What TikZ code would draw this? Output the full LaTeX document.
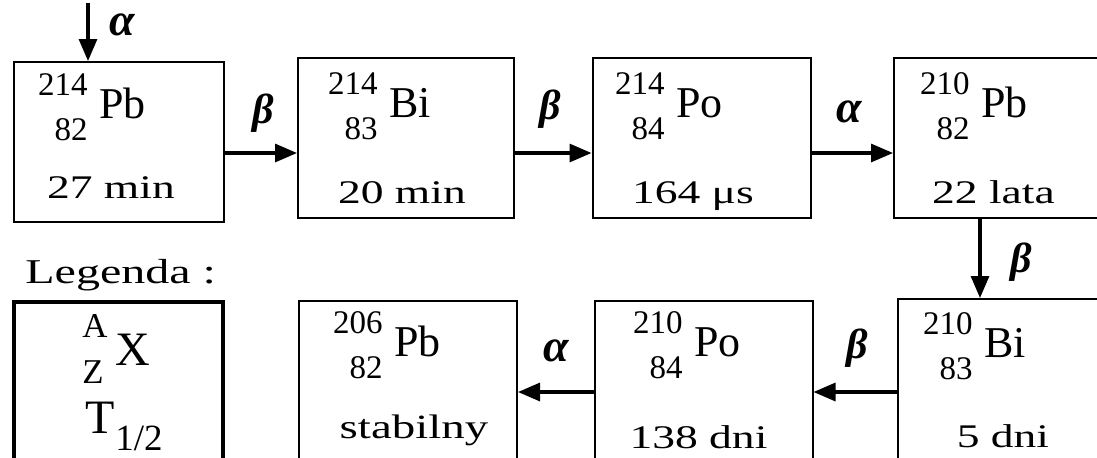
\documentclass[tikz,border=0pt]{standalone}
\usepackage{fontspec}
\setmainfont{Liberation Serif}
\newfontfamily\widefont[FakeStretch=1.38]{Liberation Serif}
\usetikzlibrary{arrows.meta}

\tikzset{
  isobox/.style={draw, line width=1pt, minimum width=109pt, minimum height=80pt, inner sep=0pt},
  num/.style={inner sep=0pt, font=\fontsize{16.5}{18}\selectfont},
  elem/.style={inner sep=0pt, font=\fontsize{22}{24}\selectfont},
  halflife/.style={inner sep=0pt, font=\widefont\fontsize{16.5}{18}\selectfont},
  decay/.style={line width=1.6pt, -{Triangle[length=11pt,width=9pt]}},
  alphalbl/.style={inner sep=0pt, font=\fontsize{23}{24}\selectfont\bfseries\itshape},
  betalbl/.style={inner sep=0pt, font=\fontsize{21}{24}\selectfont\bfseries\itshape}
}

% mass number, atomic number and symbol at (number edge, symbol baseline)
\newcommand{\nuclide}[5]{%
  \node[num, anchor=base east, yshift=11.5pt] (#1-a) at #5 {#2};
  \node[num, anchor=base east, yshift=-11pt] (#1-z) at #5 {#3};
  \node[elem, anchor=base west, xshift=5.5pt] (#1-el) at #5 {#4};
}

\begin{document}
\begin{tikzpicture}[x=0.5pt, y=-0.5pt]
  \clip (0,0) rectangle (1097,457);

  % Top row
  \node[isobox, minimum width=105pt] (pbA) at (119,142) {};
  \node[isobox, minimum width=108pt] (biA) at (406,138) {};
  \node[isobox] (poA) at (701.5,138) {};
  \node[isobox] (pbB) at (1003,138) {};

  % Bottom row
  \node[isobox] (biB) at (1007,379) {};
  \node[isobox] (poB) at (703.5,381) {};
  \node[isobox] (pbC) at (408,381) {};

  % Nuclides
  \nuclide{pbA}{214}{82}{Pb}{(88,118)}
  \nuclide{biA}{214}{83}{Bi}{(378,117)}
  \nuclide{poA}{214}{84}{Po}{(665,117)}
  \nuclide{pbB}{210}{82}{Pb}{(970,117)}
  \nuclide{biB}{210}{83}{Bi}{(973,357)}
  \nuclide{poB}{210}{84}{Po}{(683,356)}
  \nuclide{pbC}{206}{82}{Pb}{(383,356)}

  % Half-lives
  \node[halflife, anchor=base] (pbA-t) at (111,198) {27 min};
  \node[halflife, anchor=base] (biA-t) at (402,203) {20 min};
  \node[halflife, anchor=base] (poA-t) at (693,203) {164 μs};
  \node[halflife, anchor=base] (pbB-t) at (993.5,203) {22 lata};
  \node[halflife, anchor=base] (biB-t) at (1003,447) {5 dni};
  \node[halflife, anchor=base] (poB-t) at (698.5,448) {138 dni};
  \node[halflife, anchor=base, font=\widefont\fontsize{17}{18}\selectfont] (pbC-t) at (414,438) {stabilny};

  % Decays
  \coordinate (src) at (88,3);
  \coordinate (rowA) at (0,153);
  \coordinate (rowB) at (0,392);
  \coordinate (colD) at (980,0);
  \draw[decay] (src) -- (src |- pbA.north);
  \draw[decay] (rowA -| pbA.east) -- (rowA -| biA.west);
  \draw[decay] (rowA -| biA.east) -- (rowA -| poA.west);
  \draw[decay] (rowA -| poA.east) -- (rowA -| pbB.west);
  \draw[decay] (colD |- pbB.south) -- (colD |- biB.north);
  \draw[decay] (rowB -| biB.west) -- (rowB -| poB.east);
  \draw[decay] (rowB -| poB.west) -- (rowB -| pbC.east);

  \node[alphalbl] (a0) at (122,25) {α};
  \node[betalbl] (b1) at (263,113) {β};
  \node[betalbl] (b2) at (550,109) {β};
  \node[alphalbl] (a3) at (849,112) {α};
  \node[betalbl] (b4) at (1021,262) {β};
  \node[betalbl] (b5) at (857,348) {β};
  \node[alphalbl] (a6) at (556,351) {α};

  % Legend
  \node[inner sep=0pt, anchor=base west, font=\widefont\fontsize{17.4}{20}\selectfont] (legtitle) at (25,283) {Legenda :};
  \node[isobox, line width=2pt, minimum width=104.5pt] (legend) at (118.5,382) {};
  \node[inner sep=0pt, anchor=base west, font=\fontsize{17.4}{20}\selectfont] (leg-a) at (82,337) {A};
  \node[inner sep=0pt, anchor=base west, font=\fontsize{17.4}{20}\selectfont] (leg-z) at (82,383) {Z};
  \node[inner sep=0pt, anchor=base west, font=\fontsize{24}{26}\selectfont] (leg-x) at (115,365) {X};
  \node[inner sep=0pt, anchor=base west, font=\fontsize{24}{26}\selectfont] (leg-t) at (85,433) {T};
  \node[inner sep=0pt, anchor=base west, font=\fontsize{18.5}{20}\selectfont] (leg-h) at (115,450) {1/2};
\end{tikzpicture}
\end{document}
